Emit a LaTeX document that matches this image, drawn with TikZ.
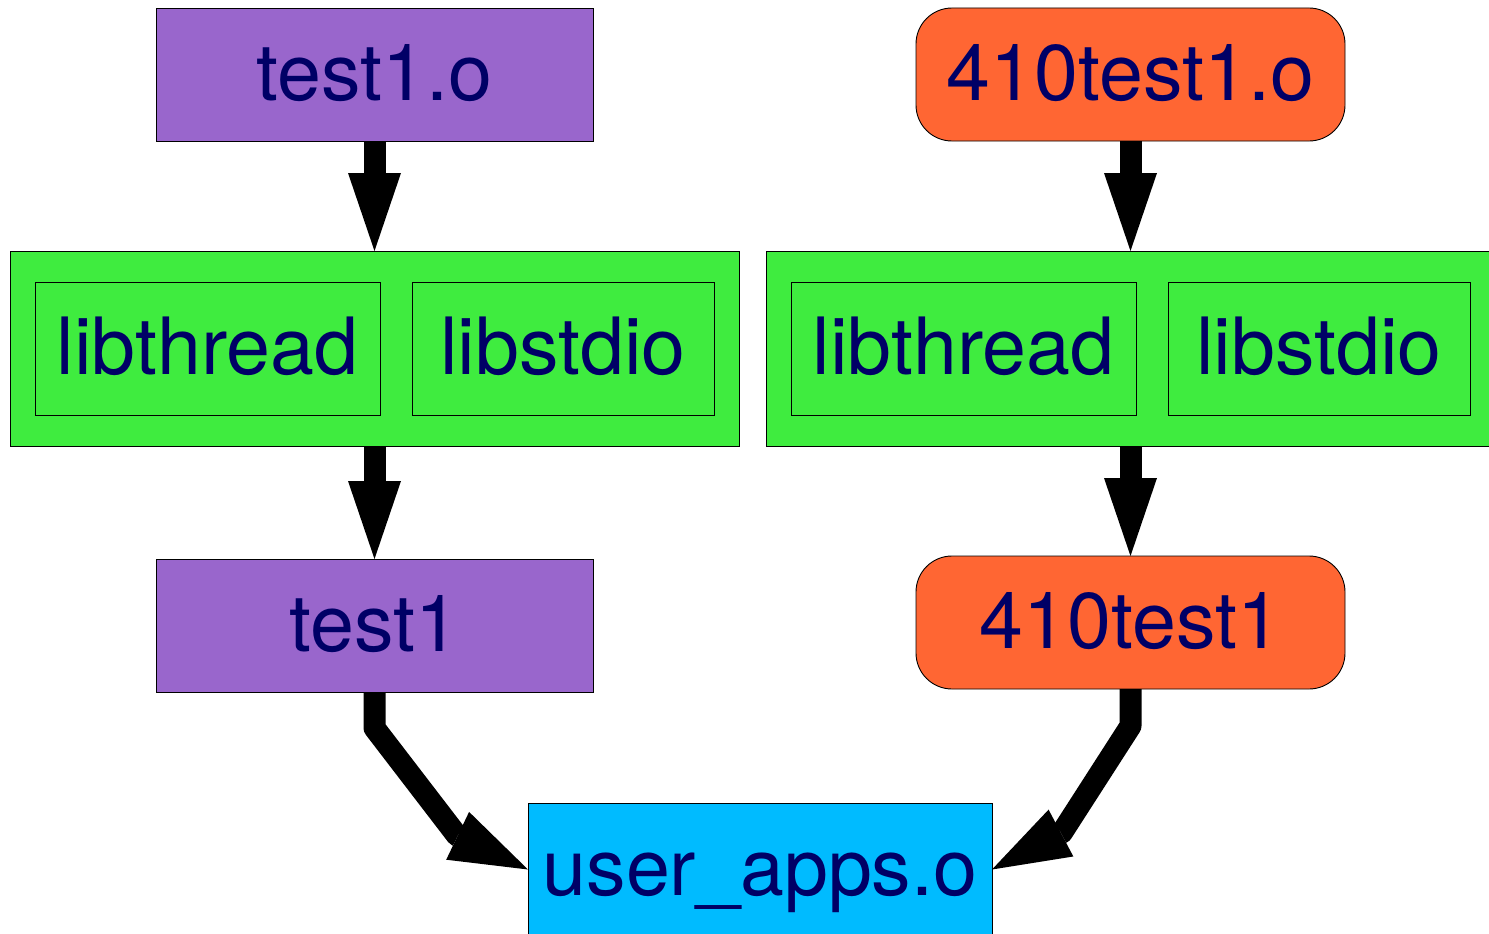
\documentclass[tikz,border=0pt]{standalone}
\usepackage{fontspec}
\setmainfont{TeX Gyre Heros}
\usetikzlibrary{arrows.meta}
\definecolor{purp}{HTML}{9966CC}
\definecolor{orng}{HTML}{FF6633}
\definecolor{grn}{HTML}{3FEC3F}
\definecolor{skyb}{HTML}{00BBFF}
\definecolor{navytext}{HTML}{000066}
\begin{document}
\begin{tikzpicture}[x=1pt,y=-1pt,
  box/.style={draw=black, line width=0.9pt, inner sep=0pt, outer sep=0pt,
    font=\fontsize{79}{95}\selectfont, text=navytext,
    text height=60pt, text depth=8pt, minimum height=133pt},
  purpbox/.style={box, fill=purp, minimum width=437pt},
  orngbox/.style={box, fill=orng, minimum width=429pt, rounded corners=36pt},
  clusterbox/.style={draw=black, line width=0.9pt, fill=grn, inner sep=0pt, outer sep=0pt,
    minimum width=729pt, minimum height=195pt},
  libbox/.style={box, fill=grn},
  bluebox/.style={box, fill=skyb, minimum width=464pt, minimum height=133pt},
  link/.style={line width=22pt, line join=round,
    -{Triangle[width=53pt,length=78pt,line width=0pt]}}]
\clip (0,0) rectangle (1489,934);
\fill[white] (0,0) rectangle (1489,934);
% top row
\node[purpbox] (t1o) at (374.5,74.5) {test1.o};
\node[orngbox] (o410) at (1130.5,74.5) {410test1.o};
% clusters
\node[clusterbox] (lcl) at (374.5,348.5) {};
\node[libbox, minimum width=345pt] (lthr) at (207.5,348.5) {libthread};
\node[libbox, minimum width=302pt] (lstd) at (563,348.5) {libstdio};
\node[clusterbox] (rcl) at (1130.5,348.5) {};
\node[libbox, minimum width=345pt] (rthr) at (963.5,348.5) {libthread};
\node[libbox, minimum width=302pt] (rstd) at (1319,348.5) {libstdio};
% middle row
\node[purpbox] (t1) at (374.5,625.5) {test1};
\node[orngbox] (e410) at (1130.5,622.5) {410test1};
% bottom
\node[bluebox] (ua) at (760,869.5) {user\_apps.o};
% connectors
\draw[link] (t1o.south) -- (lcl.north);
\draw[link] (o410.south) -- (rcl.north);
\draw[link] (lcl.south) -- (t1.north);
\draw[link] (rcl.south) -- (e410.north);
\coordinate (lb1) at (374.5,728);
\coordinate (lb2) at (457,835.5);
\coordinate (rb1) at (1130.5,726);
\coordinate (rb2) at (1062,832.5);
\draw[link] (t1.south) -- (lb1) -- (lb2) -- (ua.west);
\draw[link] (e410.south) -- (rb1) -- (rb2) -- (ua.east);
\end{tikzpicture}
\end{document}
